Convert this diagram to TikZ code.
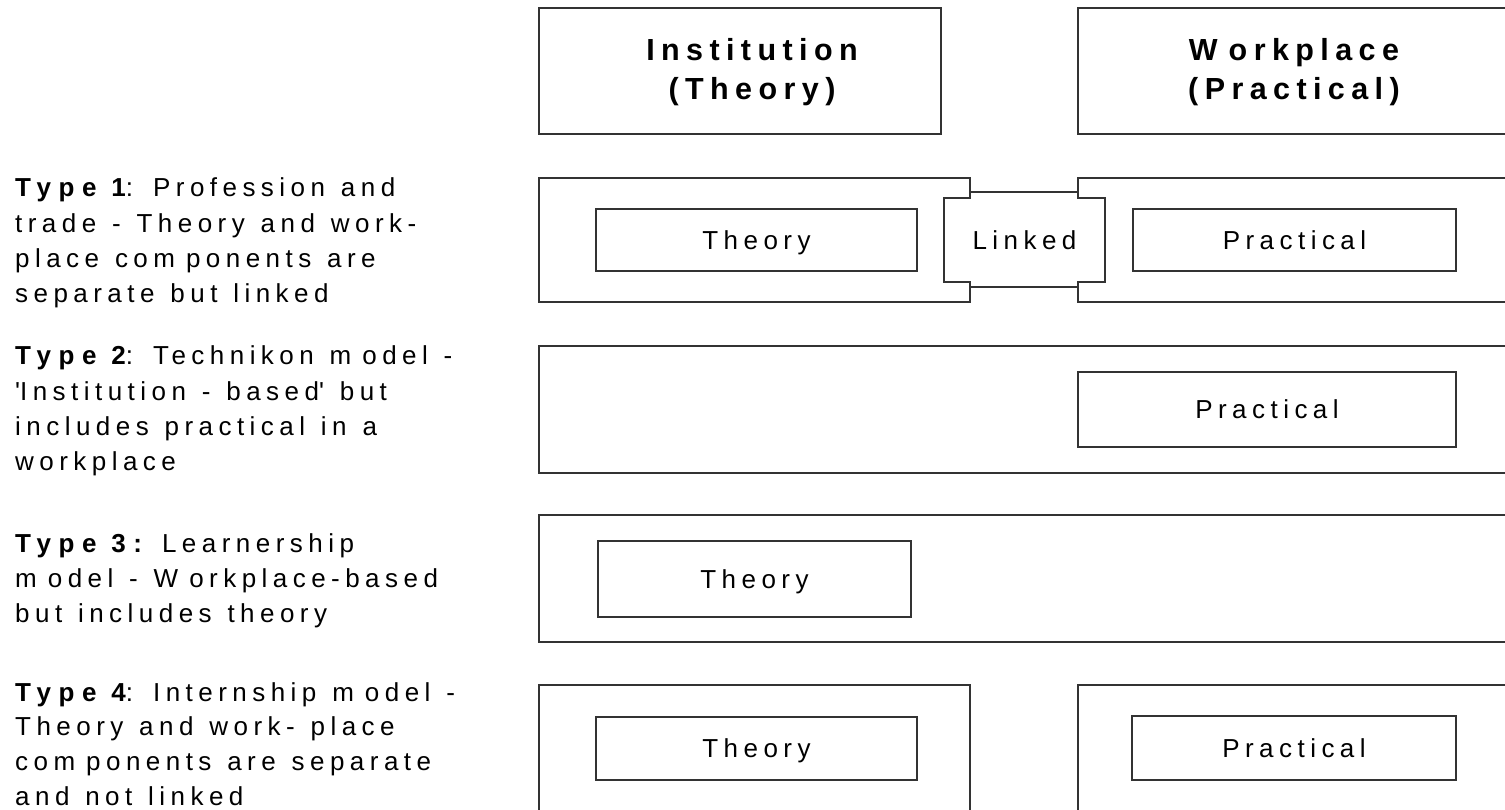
\documentclass[tikz,border=0pt]{standalone}
\usepackage{fontspec}
\setmainfont{Liberation Sans}[LetterSpace=21, WordSpace=1.25]
\newfontfamily\typefont{Liberation Sans Bold}[LetterSpace=29]
\newcommand{\tlabel}[1]{{\typefont #1}}
\colorlet{lc}{black!80}
\newcommand{\gapk}{\hspace{11pt}}
\begin{document}
\begin{tikzpicture}[x=1pt,y=-1pt,
  box/.style 2 args={draw=lc, line width=1.1pt, minimum width=#1, minimum height=#2,
    inner sep=0pt, text height=18.6pt, text depth=0pt, font=\fontsize{26}{30}\selectfont},
  lab/.style={inner sep=0pt, text height=18.6pt, text depth=0pt, font=\fontsize{26}{30}\selectfont},
  head/.style={inner sep=0pt, anchor=base, font=\bfseries\fontsize{30.5}{39}\selectfont},
  desc/.style={inner sep=0pt, anchor=base west, font=\fontsize{26}{35.2}\selectfont}]
\useasboundingbox (0,0) rectangle (1505,810);
\fill[white] (0,0) rectangle (1505,810);
\clip (0,0) rectangle (1505,810);

% headers
\node[box={402pt}{126pt}] (hdrI) at (740,71) {};
\node[box={452pt}{126pt}] (hdrW) at (1304,71) {};
\node[head] (hdrItxt) at (752,61) {\parbox[t]{380pt}{\centering Institution\\(Theory)}};
\node[head] (hdrWtxt) at (1294,61) {\parbox[t]{380pt}{\centering W\hspace{11pt}orkplace\\(Practical)}};

% type 1
\node[box={431pt}{124pt}] (t1L) at (754.5,240) {};
\node[box={452pt}{124pt}] (t1R) at (1304,240) {};
\node[box={321pt}{62pt}] (t1Th) at (756.5,240) {Theory};
\node[box={323pt}{62pt}] (t1Pr) at (1294.5,240) {Practical};
\draw[draw=lc, line width=1.1pt, fill=white] (944,198) -- (970,198) -- (970,192) -- (1078,192)
  -- (1078,198) -- (1105,198) -- (1105,282) -- (1078,282) -- (1078,287) -- (970,287)
  -- (970,282) -- (944,282) -- cycle;
\node[lab] (t1Link) at (1024.5,240) {Linked};

% type 2
\node[box={991pt}{127pt}] (t2) at (1034.5,409.5) {};
\node[box={378pt}{75pt}] (t2Pr) at (1267,409.5) {Practical};

% type 3
\node[box={991pt}{127pt}] (t3) at (1034.5,578.5) {};
\node[box={313pt}{76pt}] (t3Th) at (754.5,579) {Theory};

% type 4
\node[box={431pt}{150pt}] (t4L) at (754.5,760) {};
\node[box={452pt}{150pt}] (t4R) at (1304,760) {};
\node[box={321pt}{63pt}] (t4Th) at (756.5,748.5) {Theory};
\node[box={324pt}{64pt}] (t4Pr) at (1294,748) {Practical};

% descriptions
\node[desc] (d1) at (15,197) {\parbox[t]{470pt}{\raggedright\tlabel{Type 1}: Profession and\\trade - Theory and work-\\place com\gapk ponents are\\separate but linked}};
\node[desc] (d2) at (15,365) {\parbox[t]{470pt}{\raggedright\tlabel{Type 2}: Technikon m\gapk odel -\\\textquotesingle Institution - based\textquotesingle\ but\\includes practical in a\\workplace}};
\node[desc] (d3) at (15,552) {\parbox[t]{470pt}{\raggedright\tlabel{Type 3:} Learnership\\m\gapk odel - W\gapk orkplace-based\\but includes theory}};
\node[desc, font=\fontsize{26}{34.8}\selectfont] (d4) at (15,701) {\parbox[t]{470pt}{\raggedright\tlabel{Type 4}: Internship m\gapk odel -\\Theory and work- place\\com\gapk ponents are separate\\and not linked}};
\end{tikzpicture}
\end{document}
